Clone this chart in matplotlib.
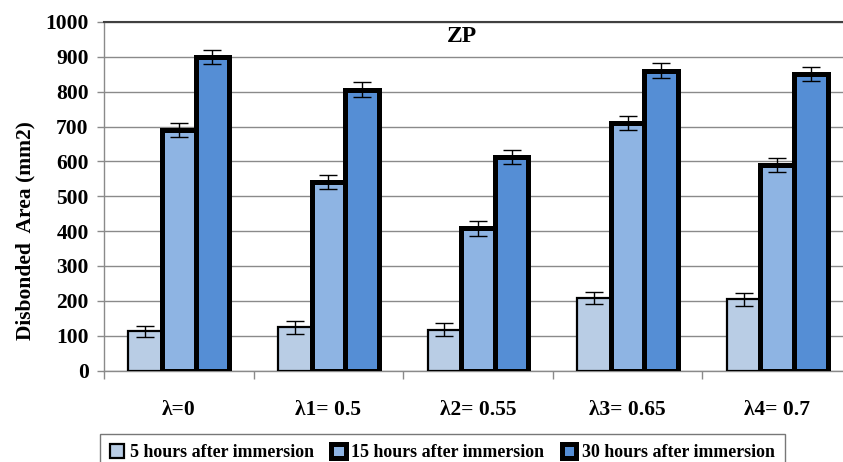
import matplotlib
matplotlib.use("Agg")
import matplotlib.pyplot as plt
import numpy as np

categories = ["λ=0", "λ1= 0.5", "λ2= 0.55", "λ3= 0.65", "λ4= 0.7"]
series_names = ["5 hours after immersion", "15 hours after immersion", "30 hours after immersion"]
h5 = [112, 124, 117, 208, 204]
h15 = [691, 541, 408, 710, 590]
h30 = [900, 806, 613, 860, 851]
err5 = [17, 18, 18, 17, 18]
err15 = [20, 21, 21, 20, 21]
err30 = [20, 21, 20, 21, 20]

colors = ["#B9CDE5", "#8EB4E3", "#558ED5"]
edge_w = [1.6, 3.6, 3.6]

plt.rcParams['font.family'] = ['Liberation Serif', 'DejaVu Serif']
plt.rcParams['font.weight'] = 'bold'

fig = plt.figure(figsize=(8.43, 4.62), dpi=100)
ax = fig.add_axes([104/843, 91.5/462, 748/843, 348.5/462])

x = np.arange(len(categories))
w = 0.225
handles = []
for i, (vals, errs) in enumerate(zip([h5, h15, h30], [err5, err15, err30])):
    b = ax.bar(x + (i - 1) * w, vals, width=w, color=colors[i], edgecolor='black',
               linewidth=edge_w[i], label=series_names[i], zorder=3)
    ax.errorbar(x + (i - 1) * w, vals, yerr=errs, fmt='none', ecolor='black',
                elinewidth=1.0, capsize=6.5, capthick=1.0, zorder=4)
    handles.append(b)

ax.set_xlim(-0.5, len(categories) - 0.5)
ax.set_ylim(0, 1000)
ax.set_yticks(np.arange(0, 1001, 100))
ax.yaxis.grid(True, color='#8a8a8a', linewidth=1.0, zorder=0)
ax.set_axisbelow(True)

ax.set_xticks(x)
ax.set_xticklabels(categories, fontsize=15.5, fontweight='bold')
ax.set_xticks(np.arange(-0.5, len(categories)), minor=True)
ax.tick_params(axis='x', which='major', length=0, pad=21)
ax.tick_params(axis='x', which='minor', length=6, color='#8a8a8a', width=1)
ax.tick_params(axis='y', length=5, color='#8a8a8a', width=1, pad=6, labelsize=15.5)
for lbl in ax.get_yticklabels():
    lbl.set_fontweight('bold')

for s in ['left', 'bottom']:
    ax.spines[s].set_color('#8a8a8a')
    ax.spines[s].set_linewidth(1.0)
ax.spines['right'].set_visible(False)
ax.spines['top'].set_color('#404040')
ax.spines['top'].set_linewidth(1.5)

fig.text(25/843, 1 - 231/462, "Disbonded  Area (mm2)", rotation=90, ha='center',
         va='center', fontsize=15.5, fontweight='bold')
fig.text(462/843, 1 - 37/462, "ZP", ha='center', va='center', fontsize=17,
         fontweight='bold')

leg = fig.legend(handles=handles, labels=series_names, loc='upper left',
                 bbox_to_anchor=(100/843, 1 - 434/462), ncol=3, frameon=True,
                 fancybox=False, edgecolor='#555555', fontsize=12.9,
                 handlelength=0.8, handleheight=0.8, handletextpad=0.3,
                 columnspacing=1.0, borderpad=0.55, borderaxespad=0)
leg.get_frame().set_linewidth(1.0)
for t in leg.get_texts():
    t.set_fontweight('bold')

fig.savefig("out.png", dpi=100)
